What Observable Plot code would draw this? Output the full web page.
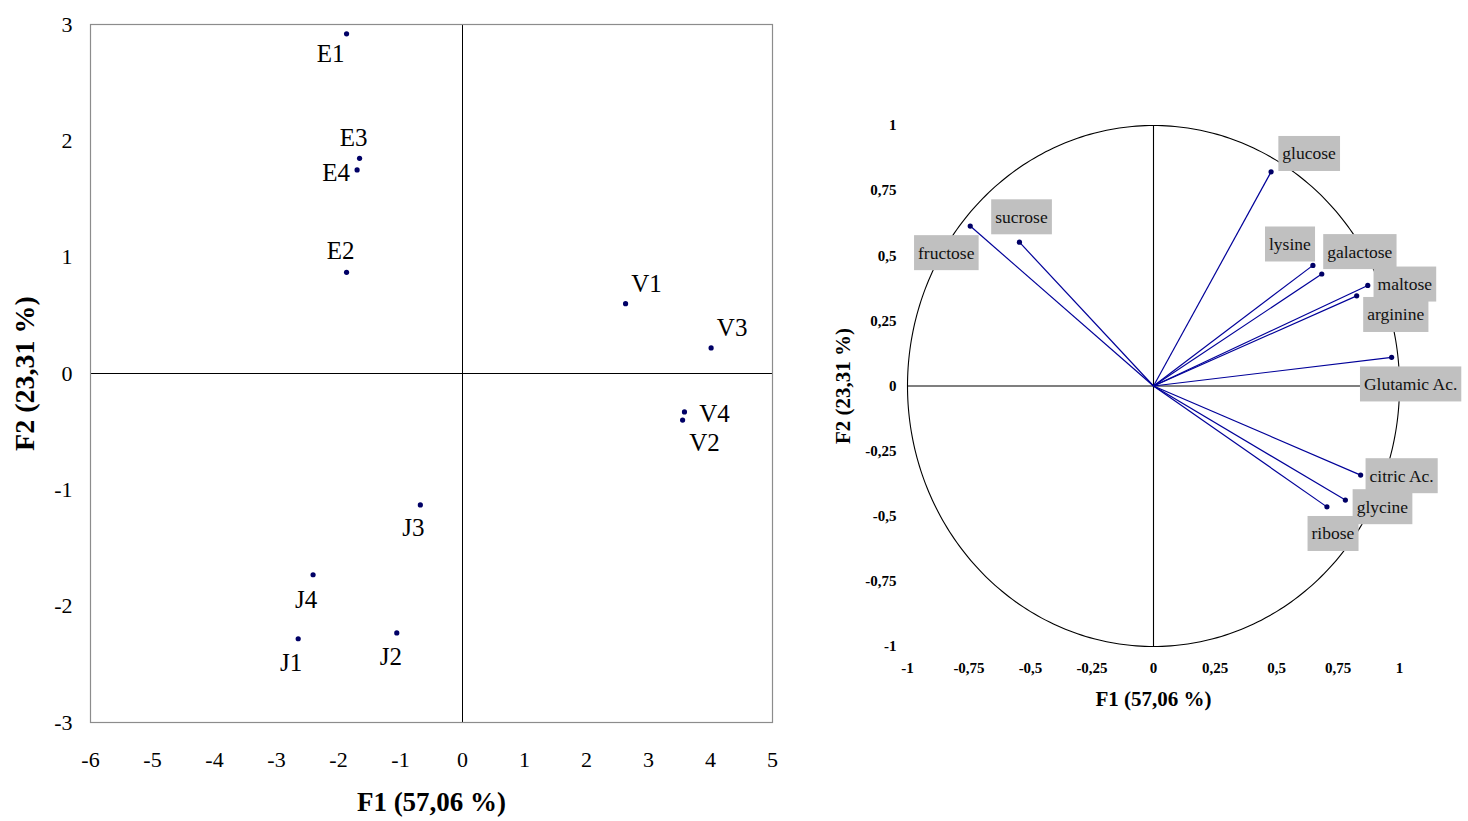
<!DOCTYPE html>
<html><head><meta charset="utf-8">
<script src="https://cdn.jsdelivr.net/npm/d3@7"></script>
<script src="https://cdn.jsdelivr.net/npm/@observablehq/plot@0.6"></script>
<style>
body{margin:0;background:#fff;}
#wrap{display:flex;width:1468px;height:821px;background:#fff;}
#wrap svg{display:block;}
</style></head><body><div id="wrap"></div>
<script>
// ---- Data: sample scores (left) ----
const samples = ["E1","E2","E3","E4","J1","J2","J3","J4","V1","V2","V3","V4"];
const sampleF1 = [-1.87,-1.87,-1.66,-1.70,-2.65,-1.06,-0.68,-2.41,2.63,3.55,4.01,3.58];
const sampleF2 = [2.92,0.87,1.85,1.75,-2.28,-2.23,-1.13,-1.73,0.60,-0.40,0.22,-0.33];
// ---- Data: variable correlations (right) ----
const variables = ["fructose","sucrose","glucose","lysine","galactose","maltose","arginine","Glutamic Ac.","citric Ac.","glycine","ribose"];
const varF1 = [-0.745,-0.545,0.478,0.648,0.684,0.871,0.826,0.968,0.842,0.780,0.705];
const varF2 = [0.614,0.552,0.822,0.463,0.430,0.386,0.346,0.110,-0.342,-0.438,-0.464];
// ---- Tick values ----
const leftTicksX = [-6,-5,-4,-3,-2,-1,0,1,2,3,4,5];
const leftTicksY = [-3,-2,-1,0,1,2,3];
const circleTicks = [-1,-0.75,-0.5,-0.25,0,0.25,0.5,0.75,1];
const xTitle = "F1 (57,06 %)";
const yTitle = "F2 (23,31 %)";

// ---- Layout (label offsets in pixels) ----
const sampleOffsets = {E1:[-16,20],E2:[-6,-21],E3:[-6,-20],E4:[-21,3],J1:[-7,24],J2:[-6,24],J3:[-7,23],J4:[-7,25],V1:[21,-20],V2:[22,23],V3:[21,-20],V4:[30,2]};
const varOffsets = {"fructose":[-24,27],"sucrose":[2,-25],"glucose":[38,-18],"lysine":[-23,-21],"galactose":[38,-22],"maltose":[37,-1],"arginine":[39,19],"Glutamic Ac.":[19,27],"citric Ac.":[41,1],"glycine":[37,7],"ribose":[6,27]};

const sampleData = samples.map((s,i)=>({name:s,x:sampleF1[i],y:sampleF2[i]}));
const varData = variables.map((v,i)=>({name:v,x:varF1[i],y:varF2[i]}));
const serif = "'Liberation Serif','Times New Roman',serif";
const fmt = d => String(d).replace(".", ",");
const navy = "#000066";

const left = Plot.plot({
  width: 800, height: 821,
  marginLeft: 90, marginTop: 24, marginRight: 28, marginBottom: 99,
  style: {fontFamily: serif, fontSize: "22px", background: "white", color: "#000"},
  x: {domain: [-6,5]},
  y: {domain: [-3,3]},
  marks: [
    Plot.ruleX([0], {stroke: "#000", strokeWidth: 1}),
    Plot.ruleY([0], {stroke: "#000", strokeWidth: 1}),
    Plot.frame({stroke: "#8c8c8c", strokeWidth: 1.2}),
    Plot.axisX({ticks: leftTicksX, tickSize: 0, tickPadding: 29, tickFormat: d => String(d), label: null, fontSize: 22}),
    Plot.axisY({ticks: leftTicksY, tickSize: 0, tickPadding: 18, tickFormat: d => String(d), label: null, fontSize: 22}),
    Plot.dot(sampleData, {x: "x", y: "y", r: 2.6, fill: navy, stroke: "none"}),
    ...sampleData.map(d => Plot.text([d], {x: "x", y: "y", text: "name", fontSize: 25, fill: "#000", dx: sampleOffsets[d.name][0], dy: sampleOffsets[d.name][1]})),
    Plot.text([xTitle], {frameAnchor: "bottom", dy: 88, fontSize: 27, fontWeight: "bold", fill: "#000"}),
    Plot.text([yTitle], {frameAnchor: "left", textAnchor: "middle", dx: -65, rotate: -90, fontSize: 28, fontWeight: "bold", fill: "#000"})
  ]
});

const angles = d3.range(0, 361, 1);
const circle = angles.map(a => ({x: Math.cos(a*Math.PI/180), y: Math.sin(a*Math.PI/180)}));

const right = Plot.plot({
  width: 668, height: 821,
  marginLeft: 107, marginTop: 125, marginRight: 69, marginBottom: 175,
  style: {fontFamily: serif, fontSize: "15px", background: "white", color: "#000"},
  x: {domain: [-1,1]},
  y: {domain: [-1,1]},
  marks: [
    Plot.line(circle, {x: "x", y: "y", stroke: "#000", strokeWidth: 1.1}),
    Plot.ruleX([0], {stroke: "#000", strokeWidth: 1.1}),
    Plot.ruleY([0], {stroke: "#000", strokeWidth: 1.1}),
    Plot.axisX({ticks: circleTicks, tickSize: 0, tickPadding: 16, tickFormat: fmt, label: null, fontSize: 15, fontWeight: "bold"}),
    Plot.axisY({ticks: circleTicks, tickSize: 0, tickPadding: 11, tickFormat: fmt, label: null, fontSize: 15, fontWeight: "bold"}),
    Plot.link(varData, {x1: 0, y1: 0, x2: "x", y2: "y", stroke: "#000099", strokeWidth: 1.2}),
    Plot.dot(varData, {x: "x", y: "y", r: 2.6, fill: navy, stroke: "none"}),
    ...varData.map(d => Plot.text([d], {x: "x", y: "y", text: "name", fontSize: 17.5, fill: "#111", dx: varOffsets[d.name][0], dy: varOffsets[d.name][1]})),
    Plot.text([xTitle], {frameAnchor: "bottom", dy: 59, fontSize: 21, fontWeight: "bold", fill: "#000"}),
    Plot.text([yTitle], {frameAnchor: "left", textAnchor: "middle", dx: -64, rotate: -90, fontSize: 21, fontWeight: "bold", fill: "#000"})
  ]
});

const wrap = document.getElementById("wrap");
wrap.appendChild(left);
wrap.appendChild(right);

// gray label boxes behind the variable names
Array.from(right.querySelectorAll("text")).filter(t => variables.includes(t.textContent)).forEach(t => {
  const b = t.getBBox();
  const padX = 4, h = 35;
  const r = document.createElementNS("http://www.w3.org/2000/svg", "rect");
  r.setAttribute("x", b.x - padX);
  r.setAttribute("y", b.y + b.height/2 - h/2);
  r.setAttribute("width", b.width + 2*padX);
  r.setAttribute("height", h);
  r.setAttribute("fill", "#c0c0c0");
  const tr = t.getAttribute("transform");
  if (tr) r.setAttribute("transform", tr);
  t.parentNode.insertBefore(r, t);
});
</script>
</body></html>
